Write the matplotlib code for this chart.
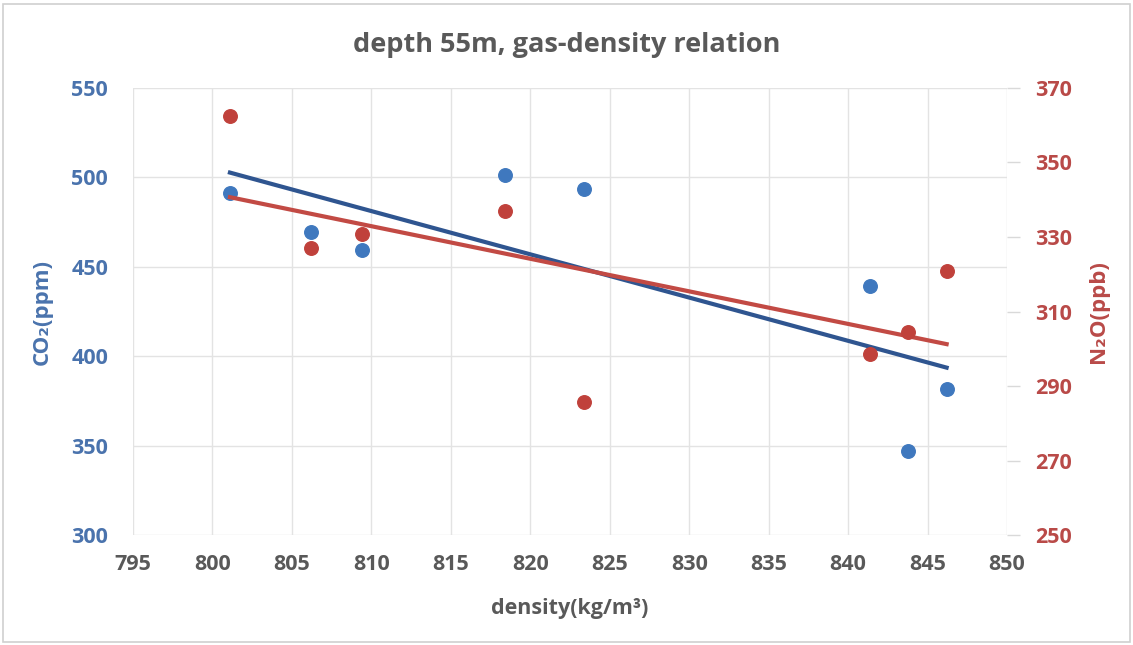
import matplotlib
matplotlib.use('Agg')
import numpy as np
import matplotlib.pyplot as plt
from matplotlib.patches import Rectangle

plt.rcParams['font.family'] = ['Open Sans', 'DejaVu Sans']

density = [801.1, 806.2, 809.4, 818.4, 823.4, 841.4, 843.8, 846.2]
co2 = [491.5, 469.5, 459.5, 501.5, 493.5, 439.5, 347.0, 381.5]
n2o = [362.5, 327.0, 330.8, 337.0, 285.8, 298.7, 304.5, 320.8]

blue = "#3f78be"
blue_line = "#2f5590"
red = "#c0413b"
red_line = "#c24a44"
blue_text = "#4a73ad"
red_text = "#b94a48"
gray_text = "#595959"

fig = plt.figure(figsize=(11.33, 6.45), dpi=100)
fig.patches.append(Rectangle((0.003, 0.004), 0.994, 0.99, transform=fig.transFigure,
                             fill=False, edgecolor="#d0d0d0", linewidth=1.2))
ax = fig.add_axes([0.1174, 0.1705, 0.7714, 0.6931])
ax2 = ax.twinx()

ax.set_xlim(795, 850)
ax.set_ylim(300, 550)
ax2.set_ylim(250, 370)
ax.set_xticks(np.arange(795, 851, 5))
ax.set_yticks(np.arange(300, 551, 50))
ax2.set_yticks(np.arange(250, 371, 20))

ax.grid(True, color="#e3e3e3", linewidth=1)
ax.set_axisbelow(True)
for a in (ax, ax2):
    for s in a.spines.values():
        s.set_visible(False)

ax.scatter(density, co2, s=95, color=blue, zorder=3)
ax2.scatter(density, n2o, s=95, color=red, zorder=3)

# linear trendlines
xs = np.array([min(density), max(density)])
k1, b1 = np.polyfit(density, co2, 1)
k2, b2 = np.polyfit(density, n2o, 1)
ax.plot(xs, k1 * xs + b1, color=blue_line, linewidth=3, zorder=2)
ax2.plot(xs, k2 * xs + b2, color=red_line, linewidth=3, zorder=2)

fs = 15.5
ax.tick_params(axis='x', length=0, pad=14, labelsize=fs, labelcolor=gray_text)
ax.tick_params(axis='y', length=0, pad=18, labelsize=fs, labelcolor=blue_text)
ax2.tick_params(axis='y', length=9, width=1, color="#d9d9d9", pad=11, labelsize=fs, labelcolor=red_text)
for lab in ax.get_xticklabels() + ax.get_yticklabels() + ax2.get_yticklabels():
    lab.set_fontweight('bold')

ax.set_xlabel("density(kg/m³)", fontsize=15.5, fontweight='bold', color=gray_text, labelpad=16)
ax.set_ylabel("CO₂(ppm)", fontsize=16, fontweight='bold', color=blue_text, labelpad=13)
ax2.set_ylabel("N₂O(ppb)", fontsize=16, fontweight='bold', color=red_text, labelpad=12)
fig.suptitle("depth 55m, gas-density relation", x=0.5, y=0.95, fontsize=19.5,
             fontweight='bold', color=gray_text)

fig.savefig("out.png", dpi=100)
